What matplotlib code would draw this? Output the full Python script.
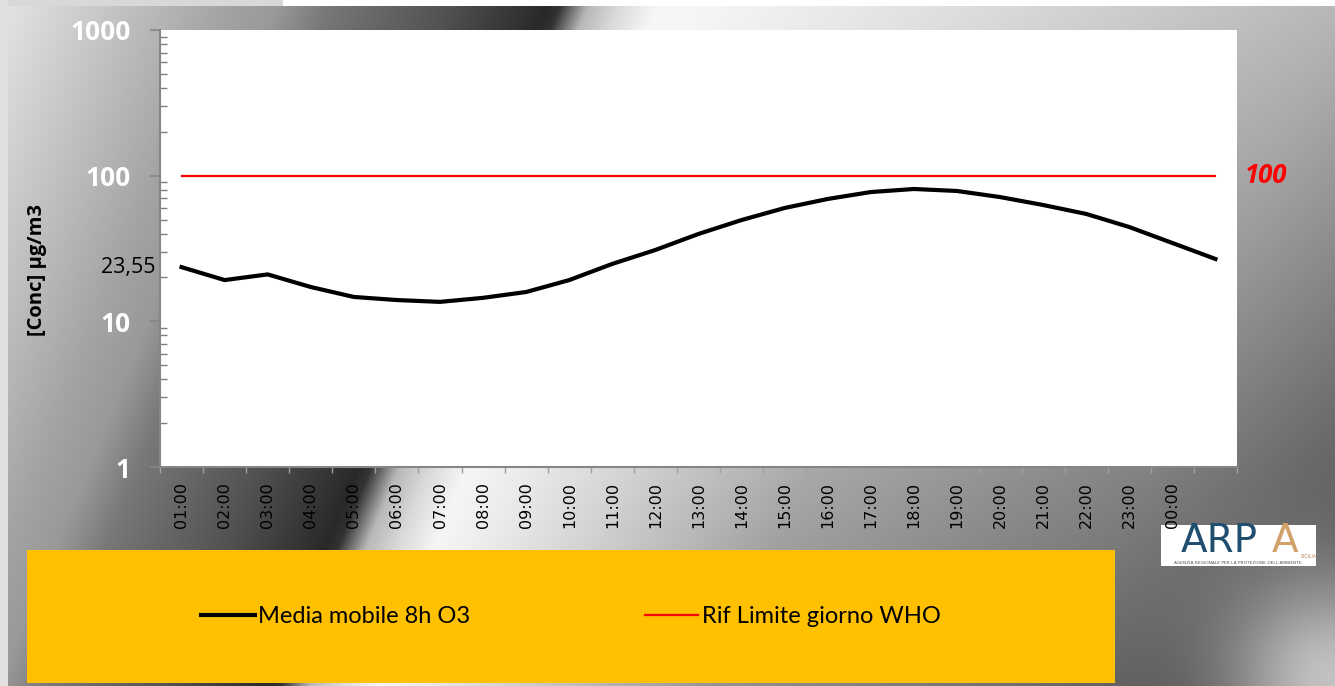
import numpy as np
import matplotlib.pyplot as plt
from matplotlib.patches import Rectangle
from matplotlib.lines import Line2D
from matplotlib.transforms import blended_transform_factory

# media mobile 8h ozono, ultime 24 ore
ore = ["01:00", "02:00", "03:00", "04:00", "05:00", "06:00", "07:00", "08:00",
       "09:00", "10:00", "11:00", "12:00", "13:00", "14:00", "15:00", "16:00",
       "17:00", "18:00", "19:00", "20:00", "21:00", "22:00", "23:00", "00:00", ""]
o3_media_8h = [23.55, 19.2, 21.0, 17.2, 14.7, 14.0, 13.6, 14.5, 15.9, 19.2,
               24.8, 30.9, 39.8, 49.6, 60.0, 69.2, 77.2, 81.0, 78.5, 71.3,
               62.9, 54.6, 44.4, 34.5, 26.8]
limite_who = 100
primo_valore = "23,55"

W, H = 1335, 686
fig = plt.figure(figsize=(W / 100, H / 100), dpi=100)

# sfondo metallico
xx, yy = np.meshgrid(np.arange(W), np.arange(H))
u = xx + 0.41 * yy
gray = np.interp(u,
                 [0, 160, 230, 280, 330, 450, 550, 562, 590, 620, 660, 720, 1000, 1343, 1500, 1700],
                 [0.9, 0.72, 0.64, 0.6, 0.47, 0.32, 0.16, 0.2, 0.72, 0.85, 0.97, 0.96, 0.86, 0.72, 0.62, 0.55])
gray -= np.interp(u, [650, 1000, 1700], [0, 0.22, 0.25]) * yy / 520
gray += 0.5 * np.exp(-(np.hypot(xx - W, yy - H) / 110) ** 2)
gray = np.clip(gray, 0, 1)
gray[:6, :283] = 0.85
gray[:6, 283:] = 1.0
gray[:, :8] = 0.88
rgb = np.dstack([gray, gray, gray])

bg = fig.add_axes([0, 0, 1, 1], zorder=0)
bg.imshow(rgb, extent=(0, W, H, 0), aspect="auto", interpolation="bilinear")
bg.set_xlim(0, W)
bg.set_ylim(H, 0)
bg.axis("off")

# riquadro legenda e logo
bg.add_patch(Rectangle((27, 550), 1088, 133, color="#FFC000", lw=0))
bg.add_patch(Rectangle((1161, 525), 155, 41, color="white", lw=0))
bg.text(1219, 552, "ARP", color="#1F4E6E", fontsize=28, family="DejaVu Sans",
        ha="center", va="baseline")
bg.text(1285, 552, "A", color="#D4A06A", fontsize=28, family="DejaVu Sans",
        ha="center", va="baseline")
bg.text(1309, 556, "SICILIA", color="#B08050", fontsize=3.3, ha="center", va="center")
bg.text(1238, 563.5, "AGENZIA REGIONALE PER LA PROTEZIONE DELL'AMBIENTE",
        color="#555555", fontsize=3.2, ha="center", va="center")

# grafico
ax = fig.add_axes([160 / W, 1 - 467 / H, 1077 / W, 437 / H], zorder=1)
ax.set_facecolor("white")
x = np.arange(len(ore))
ax.plot(x, o3_media_8h, color="black", lw=3, solid_joinstyle="round")
ax.plot(x, [limite_who] * len(x), color="#FF0000", lw=1.6)

ax.set_yscale("log")
ax.set_ylim(1, 1000)
ax.set_xlim(-0.5, len(ore) - 0.5)

for s in ["top", "right"]:
    ax.spines[s].set_visible(False)
for s in ["left", "bottom"]:
    ax.spines[s].set_color("#868686")
    ax.spines[s].set_linewidth(1.5)

ax.set_yticks([1, 10, 100, 1000], ["1", "10", "100", "1000"])
ax.tick_params(axis="y", which="major", direction="out", length=7, width=1.2,
               color="#868686", pad=14, labelcolor="white", labelsize=19)
ax.tick_params(axis="y", which="minor", direction="in", length=5, width=1,
               color="#7f7f7f")
for t in ax.get_yticklabels():
    t.set_fontweight("bold")
    t.set_family("Open Sans")

ax.set_xticks(x, ore, rotation=90)
ax.set_xticks(np.arange(len(ore) + 1) - 0.5, minor=True)
ax.tick_params(axis="x", which="major", length=0, pad=11, labelsize=11.5)
ax.tick_params(axis="x", which="minor", direction="out", length=4, width=1,
               color="#a0a0a0")

trans = blended_transform_factory(ax.transAxes, ax.transData)
ax.text(-0.004, o3_media_8h[0], primo_valore, transform=trans, ha="right",
        va="center", fontsize=15.5, family="Open Sans", color="black")
ax.text(1.0075, limite_who, str(limite_who), transform=trans, ha="left",
        va="center", fontsize=18.5, family="Open Sans", color="#FF0000",
        fontweight="bold", fontstyle="italic")

fig.text(37 / W, 1 - 270 / H, "[Conc] µg/m3", rotation=90, ha="center",
         va="center", fontsize=14.5, fontweight="bold", family="Open Sans")

handles = [Line2D([], [], color="black", lw=3),
           Line2D([], [], color="#FF0000", lw=1.6)]
fig.legend(handles, ["Media mobile 8h O3", "Rif Limite giorno WHO"],
           loc="center", bbox_to_anchor=(571 / W, 1 - 616.5 / H), ncol=2,
           frameon=False, prop={"family": "Lato", "size": 17},
           handlelength=2.25, handletextpad=0.15, columnspacing=7.4)

fig.savefig("out.png", dpi=100)
